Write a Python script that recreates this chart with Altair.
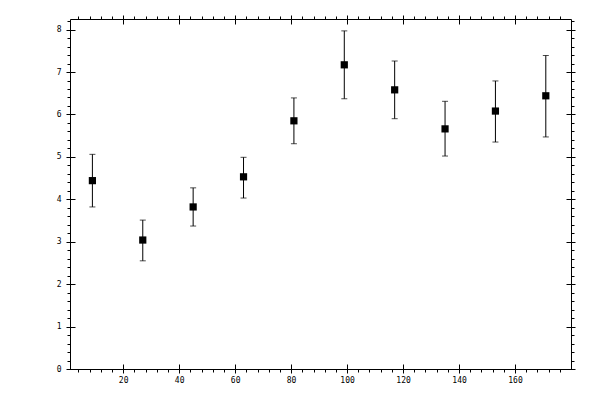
import altair as alt
import pandas as pd

# data
xs = [9, 27, 45, 63, 81, 99, 117, 135, 153, 171]
ys = [4.44, 3.04, 3.82, 4.53, 5.85, 7.17, 6.58, 5.66, 6.08, 6.44]
lo = [3.82, 2.55, 3.37, 4.03, 5.31, 6.37, 5.90, 5.02, 5.35, 5.47]
hi = [5.06, 3.51, 4.27, 4.99, 6.39, 7.97, 7.26, 6.31, 6.79, 7.39]

x_major = [20, 40, 60, 80, 100, 120, 140, 160]
x_minor = list(range(4, 180, 4))
y_major = [0, 1, 2, 3, 4, 5, 6, 7, 8]
y_minor = [round(i * 0.2, 1) for i in range(0, 42)]

df = pd.DataFrame({"x": xs, "y": ys, "lo": lo, "hi": hi})

xsc = alt.Scale(domain=[1, 180], nice=False, zero=False)
ysc = alt.Scale(domain=[0, 8.25], nice=False, zero=False)

FONT = "DejaVu Sans Mono"

def xaxis(orient, values, size, offset, labels):
    return alt.Axis(orient=orient, values=values, tickSize=size, offset=offset,
                    labels=labels, domain=False, grid=False, title=None,
                    tickColor="black", tickWidth=1, labelFont=FONT, labelFontSize=8,
                    labelColor="black", labelPadding=3, labelFlush=False)

def yaxis(orient, values, size, offset, labels):
    return alt.Axis(orient=orient, values=values, tickSize=size, offset=offset,
                    labels=labels, domain=False, grid=False, title=None,
                    tickColor="black", tickWidth=1, labelFont=FONT, labelFontSize=8,
                    labelColor="black", labelPadding=5, labelFlush=False)

base = alt.Chart(df)

points = base.mark_square(size=52, color="black", opacity=1).encode(
    x=alt.X("x:Q", scale=xsc, axis=xaxis("bottom", x_major, 9, -5, True)),
    y=alt.Y("y:Q", scale=ysc, axis=yaxis("left", y_major, 9, -5, True)),
)

rules = base.mark_rule(color="black", strokeWidth=1).encode(
    x=alt.X("x:Q", scale=xsc, axis=xaxis("bottom", x_minor, 3, 0, False)),
    y=alt.Y("lo:Q", scale=ysc, axis=yaxis("left", y_minor, 3, 0, False)),
    y2="hi:Q",
)

cap_lo = base.mark_tick(orient="horizontal", size=6, thickness=1, color="black").encode(
    x=alt.X("x:Q", scale=xsc, axis=xaxis("top", x_major, 9, -5, False)),
    y=alt.Y("lo:Q", scale=ysc, axis=yaxis("right", y_major, 9, -5, False)),
)

cap_hi = base.mark_tick(orient="horizontal", size=6, thickness=1, color="black").encode(
    x=alt.X("x:Q", scale=xsc, axis=xaxis("top", x_minor, 3, 0, False)),
    y=alt.Y("hi:Q", scale=ysc, axis=yaxis("right", y_minor, 3, 0, False)),
)

chart = alt.layer(rules, cap_lo, cap_hi, points).resolve_axis(
    x="independent", y="independent"
).properties(
    width=501, height=350, autosize="none",
    padding={"left": 62, "top": 11, "right": 20, "bottom": 22},
    background="white",
).configure_view(stroke="black", strokeWidth=1)

chart.save("out.html", embed_options={"renderer": "svg", "actions": False})
